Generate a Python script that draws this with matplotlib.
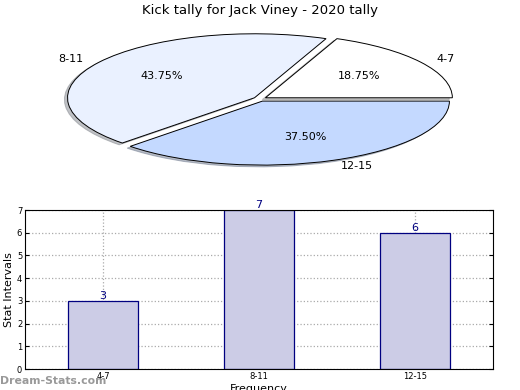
import matplotlib
matplotlib.use("Agg")
import matplotlib.pyplot as plt

title = "Kick tally for Jack Viney - 2020 tally"
categories = ["4-7", "8-11", "12-15"]
values = [3, 7, 6]
pie_colors = ["#FFFFFF", "#EAF1FF", "#C4D9FF"]

fig = plt.figure(figsize=(5.2, 3.9), dpi=100)
fig.patch.set_facecolor("white")

# Pie chart (flattened)
axp = fig.add_axes([0.1044, 0.5656, 0.791, 0.361])
wedges, texts, autotexts = axp.pie(
    values, labels=categories, colors=pie_colors, startangle=0,
    counterclock=True, explode=[0.035, 0.035, 0.035], autopct="%.2f%%",
    pctdistance=0.6, labeldistance=1.1,
    shadow=dict(ox=-0.012, oy=-0.02, shade=0.45),
    wedgeprops=dict(edgecolor="black", linewidth=0.7),
    textprops=dict(fontsize=8),
)
axp.set_aspect("auto")
axp.set_xlim(-1.1, 1.1)
axp.set_ylim(-1.1, 1.1)
axp.axis("off")
fig.text(0.5, 0.973, title, ha="center", va="center", fontsize=9.5)

# Bar chart
axb = fig.add_axes([0.048, 0.0538, 0.9, 0.4077])
x = list(range(len(categories)))
axb.bar(x, values, width=0.45, color="#CCCCE6", edgecolor="#000080", linewidth=0.9, zorder=2)
for xi, v in zip(x, values):
    axb.text(xi, v, str(v), ha="center", va="bottom", color="#000080", fontsize=8, zorder=3)
axb.set_xlim(-0.5, 2.5)
axb.set_ylim(0, 7)
axb.set_yticks(range(0, 8))
axb.set_xticks(x)
axb.set_xticklabels(categories)
axb.tick_params(axis="both", labelsize=6, direction="in", length=3, right=True, top=False, pad=2)
axb.grid(True, linestyle=":", color="#AAAAAA", linewidth=0.9, zorder=0)
axb.set_axisbelow(True)
axb.set_ylabel("Stat Intervals", fontsize=8, labelpad=2)
axb.set_xlabel("Frequency", fontsize=8, labelpad=2)

fig.text(0.0, 0.024, "Dream-Stats.com", ha="left", va="center", fontsize=7.8,
         color="#999999", fontweight="bold")

fig.savefig("out.png", dpi=100)
